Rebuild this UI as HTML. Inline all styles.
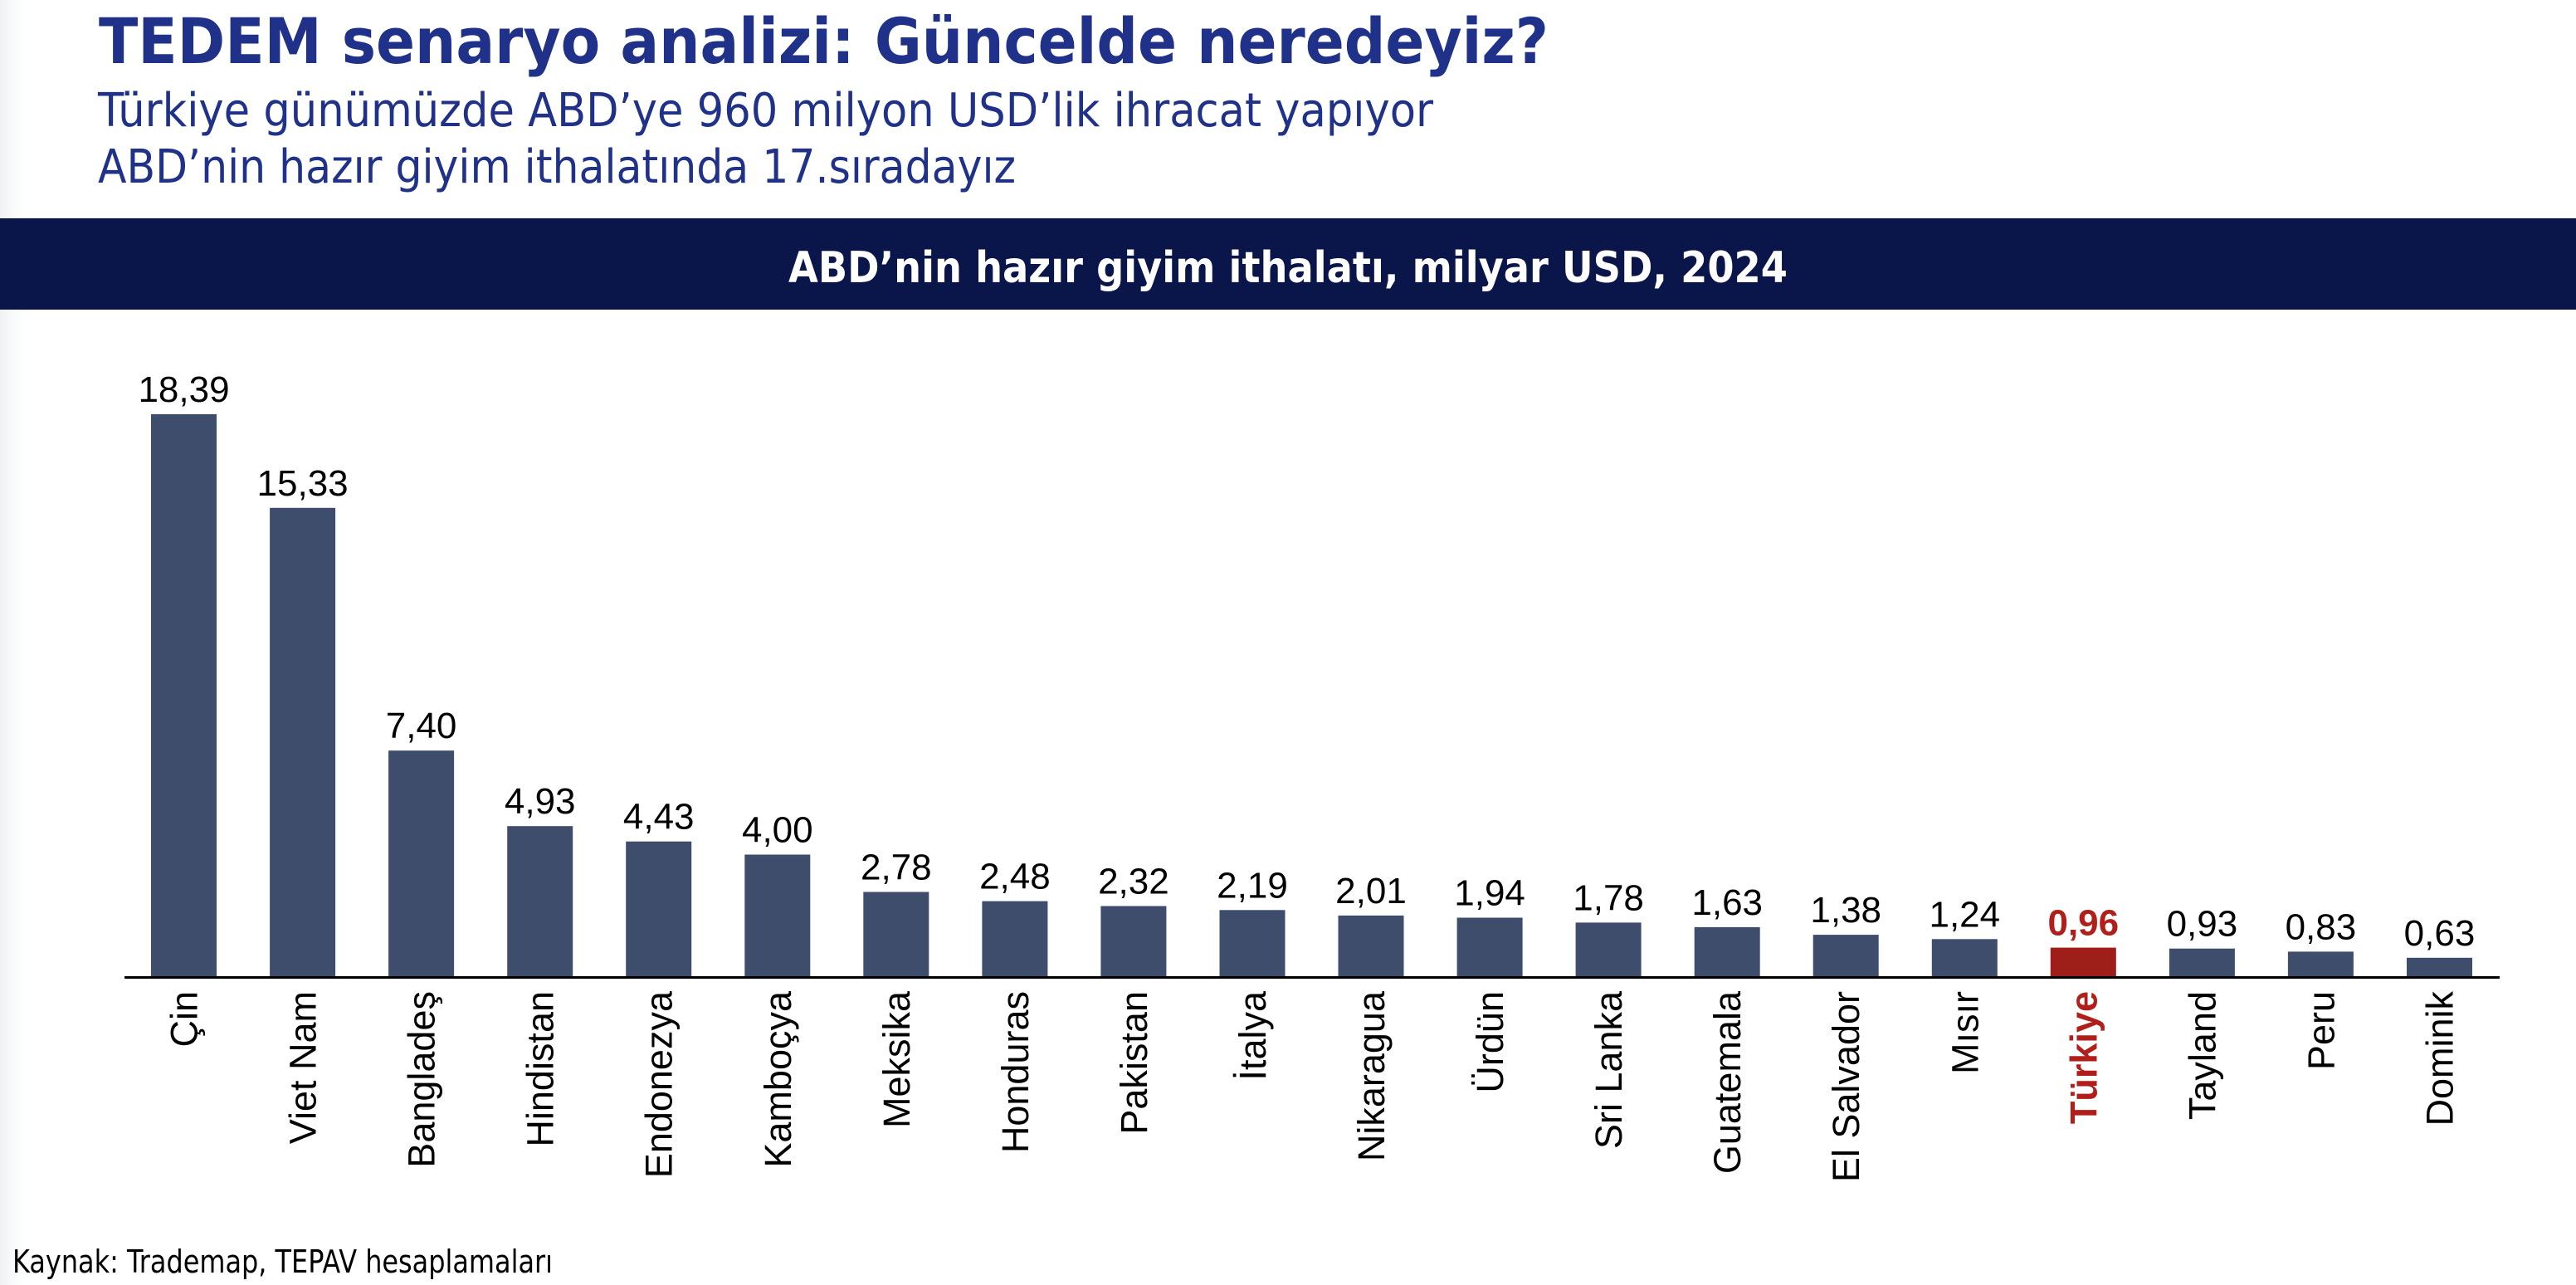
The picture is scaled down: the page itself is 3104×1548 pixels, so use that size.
<!DOCTYPE html>
<html><head><meta charset="utf-8"><style>
html,body{margin:0;padding:0;background:#fff;}
svg{display:block;}
</style></head><body>
<svg width="3104" height="1548" viewBox="0 0 3104 1548" xmlns="http://www.w3.org/2000/svg">
<defs><linearGradient id="lg" x1="0" x2="1" y1="0" y2="0"><stop offset="0" stop-color="#eef0f3"/><stop offset="1" stop-color="#ffffff" stop-opacity="0"/></linearGradient></defs>
<rect width="3104" height="1548" fill="#fff"/>
<rect x="0" y="0" width="40" height="1548" fill="url(#lg)"/>
<text x="119" y="76" font-family="DejaVu Sans" font-weight="bold" font-size="76" fill="#20318a" textLength="1747" lengthAdjust="spacingAndGlyphs">TEDEM senaryo analizi: Güncelde neredeyiz?</text>
<text x="118" y="152" font-family="DejaVu Sans" font-size="56" fill="#20318a" textLength="1609" lengthAdjust="spacingAndGlyphs">Türkiye günümüzde ABD’ye 960 milyon USD’lik ihracat yapıyor</text>
<text x="118" y="220" font-family="DejaVu Sans" font-size="56" fill="#20318a" textLength="1106" lengthAdjust="spacingAndGlyphs">ABD’nin hazır giyim ithalatında 17.sıradayız</text>
<rect x="0" y="263" width="3104" height="110" fill="#0a1549"/>
<text x="950" y="340" font-family="DejaVu Sans" font-weight="bold" font-size="52" fill="#fff" textLength="1204" lengthAdjust="spacingAndGlyphs">ABD’nin hazır giyim ithalatı, milyar USD, 2024</text>
<g id="bars"></g>
<line x1="150" y1="1177.5" x2="3012" y2="1177.5" stroke="#000" stroke-width="3"/>
<text x="15" y="1533" font-family="DejaVu Sans" font-size="38" fill="#000" textLength="651" lengthAdjust="spacingAndGlyphs">Kaynak: Trademap, TEPAV hesaplamaları</text>
</svg>
<script>
var d=[["Çin",18.39],["Viet Nam",15.33],["Bangladeş",7.40],["Hindistan",4.93],["Endonezya",4.43],["Kamboçya",4.00],["Meksika",2.78],["Honduras",2.48],["Pakistan",2.32],["İtalya",2.19],["Nikaragua",2.01],["Ürdün",1.94],["Sri Lanka",1.78],["Guatemala",1.63],["El Salvador",1.38],["Mısır",1.24],["Türkiye",0.96],["Tayland",0.93],["Peru",0.83],["Dominik",0.63]];
var g=document.getElementById("bars"),s="";
d.forEach(function(e,i){
 var x=182+i*143.05,h=e[1]*36.87,y=1177-h,cx=x+39.5,tr=e[0]=="Türkiye";
 var col=tr?"#9e1f1a":"#3d4d6b",tc=tr?"#b01f1a":"#000",fw=tr?"bold":"normal";
 s+='<rect x="'+x.toFixed(1)+'" y="'+y.toFixed(1)+'" width="79" height="'+h.toFixed(1)+'" fill="'+col+'"/>';
 s+='<text x="'+cx.toFixed(1)+'" y="'+(y-15).toFixed(1)+'" text-anchor="middle" font-family="Liberation Sans, sans-serif" font-size="44" font-weight="'+fw+'" fill="'+tc+'">'+e[1].toFixed(2).replace(".",",")+'</text>';
 s+='<text transform="translate('+(cx+16).toFixed(1)+',1194) rotate(-90)" text-anchor="end" font-family="Liberation Sans, sans-serif" font-size="45" font-weight="'+fw+'" fill="'+tc+'">'+e[0]+'</text>';
});
g.innerHTML=s;
</script>
</body></html>
